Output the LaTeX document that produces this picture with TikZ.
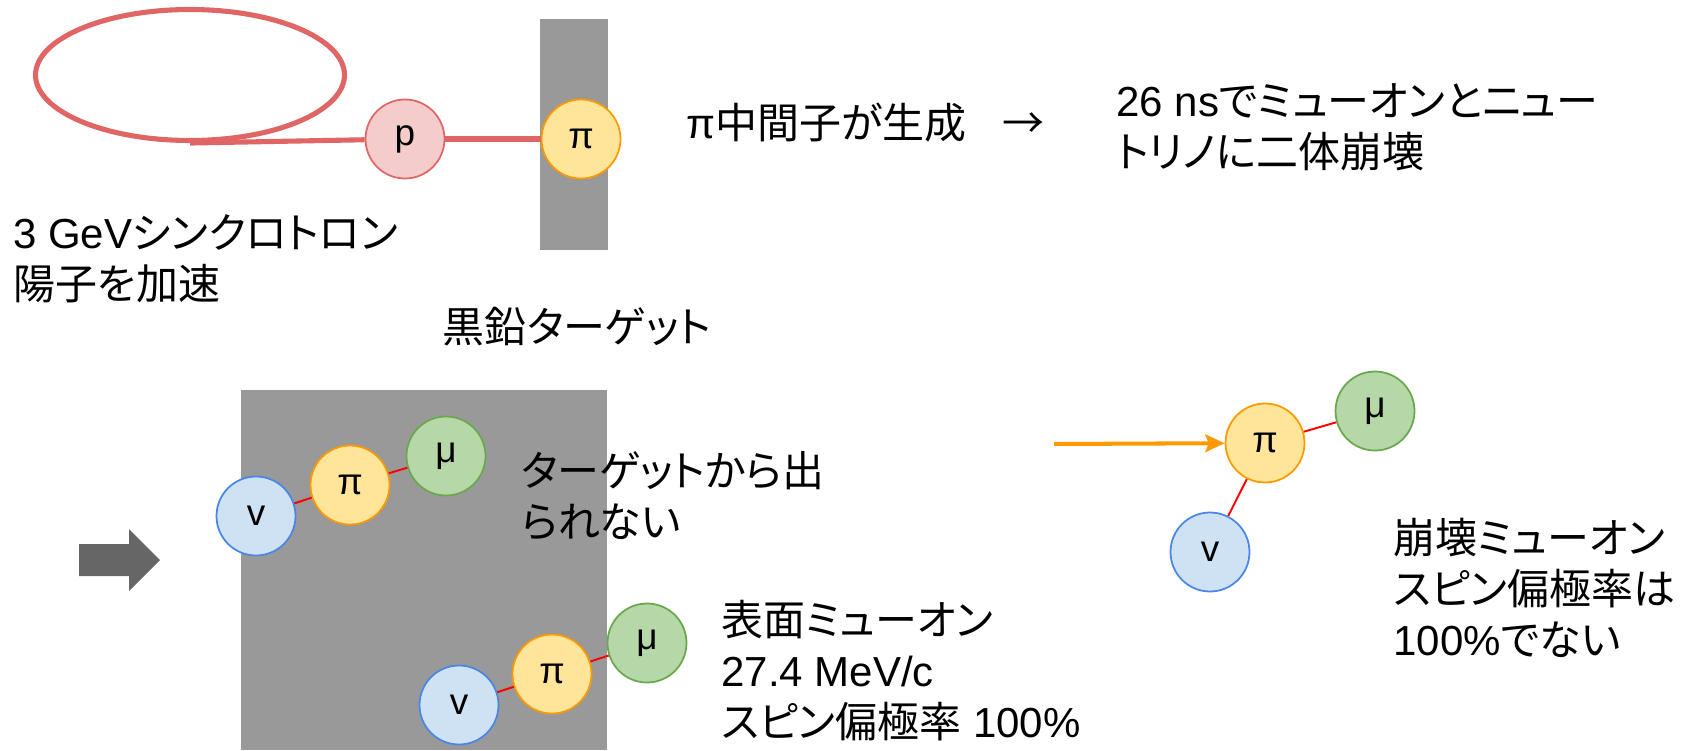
\documentclass[tikz,border=0pt]{standalone}
\usepackage{fontspec}
\setmainfont{Liberation Sans}
\newfontfamily\jp[Scale=1.0, RawFeature=+palt]{Noto Sans CJK JP}
\usepackage{xcolor}
\usetikzlibrary{arrows.meta,positioning,shapes.geometric}
\definecolor{ringRed}{HTML}{E06666}
\definecolor{pFill}{HTML}{F4CCCC}
\definecolor{piFill}{HTML}{FFE599}
\definecolor{piLine}{HTML}{FF9900}
\definecolor{muFill}{HTML}{B6D7A8}
\definecolor{muLine}{HTML}{6AA84F}
\definecolor{nuFill}{HTML}{CFE2F3}
\definecolor{nuLine}{HTML}{4A86E8}
\definecolor{tgtGray}{HTML}{999999}
\definecolor{arrGray}{HTML}{666666}

\begin{document}
\begin{tikzpicture}[x=0.02cm, y=-0.02cm,
  txt/.style={anchor=west, align=left, inner sep=0pt, font=\fontsize{23.9}{29}\selectfont},
  ptcl/.style={circle, draw, line width=1pt, minimum size=1.58cm, inner sep=0pt, font=\fontsize{21}{21}\selectfont},
  proton/.style={ptcl, draw=ringRed, fill=pFill},
  pion/.style={ptcl, draw=piLine, fill=piFill},
  muon/.style={ptcl, draw=muLine, fill=muFill},
  nu/.style={ptcl, draw=nuLine, fill=nuFill},
  ring/.style={ellipse, draw=ringRed, line width=2.9pt, minimum width=6.18cm, minimum height=2.62cm, inner sep=0pt},
  beam/.style={draw=ringRed, line width=2.9pt},
  target/.style={fill=tgtGray, inner sep=0pt},
  decay/.style={draw=red, line width=1.1pt},
  feed/.style={draw=piLine, line width=2.3pt, -{Stealth[length=11pt, width=10pt, inset=2pt]}}]
\useasboundingbox (0,0) rectangle (1682,750);
% --- top: synchrotron and graphite target ---
\node[ring] (ring) at (190,75) {};
\node[target, minimum width=1.36cm, minimum height=4.62cm] (bar) at (574,134.5) {};
\node[proton] (p) at (405,139) {p};
\node[pion] (pi1) at (581,139) {π};
\draw[beam] (ring.south) -- (p);
\draw[beam] (p) -- (pi1);
\node[txt] (sync) at (13,259) {3 GeV{\jp シンクロトロン}\\{\jp 陽子を加速}};
\node[txt, anchor=center] (graphite) at (577,327) {\jp 黒鉛ターゲット};
\node[txt] (pigen) at (686,123) {π{\jp 中間子が生成}\hspace{0.72cm}{\jp →}};
\node[txt] (twobody) at (1116,127) {26 ns{\jp でミューオンとニュー}\\{\jp トリノに二体崩壊}};
% --- bottom left: pions stopped in the target ---
\fill[arrGray] (79,544) -- (129,544) -- (129,529) -- (160,560) -- (129,591) -- (129,576) -- (79,576) -- cycle;
\node[target, minimum width=7.32cm, minimum height=7.2cm] (block) at (424,570) {};
\node[nu] (v1) at (256,516) {v};
\node[pion] (pi2) at (350,485) {π};
\node[muon] (mu1) at (446,456) {μ};
\draw[decay] (v1) -- (pi2) -- (mu1);
\node[nu] (v2) at (459,705) {v};
\node[pion] (pi3) at (552,674) {π};
\node[muon] (mu2) at (647,643) {μ};
\draw[decay] (v2) -- (pi3) -- (mu2);
\node[txt] (stuck) at (521,496) {{\jp ターゲットから出}\\{\jp られない}};
\node[txt] (surface) at (721,671) {{\jp 表面ミューオン}\\27.4 MeV/c\\{\jp スピン偏極率} 100\%};
% --- right: pion decaying in flight ---
\coordinate (src) at (1054,444);
\node[pion] (pi4) at (1265,443) {π};
\node[muon] (mu3) at (1375,411) {μ};
\node[nu] (v3) at (1210,552) {v};
\draw[feed] (src) -- (pi4);
\draw[decay] (v3) -- (pi4) -- (mu3);
\node[txt] (inflight) at (1393,588) {{\jp 崩壊ミューオン}\\{\jp スピン偏極率は}\\100\%{\jp でない}};
\end{tikzpicture}
\end{document}
